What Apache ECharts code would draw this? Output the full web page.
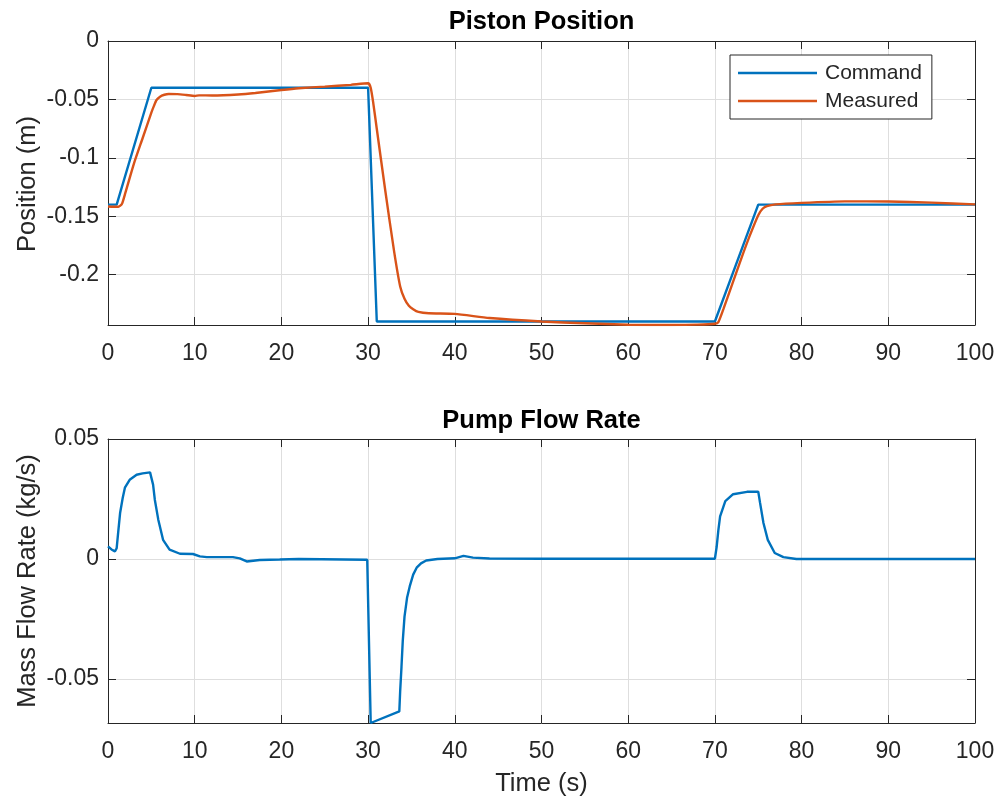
<!DOCTYPE html>
<html>
<head>
<meta charset="utf-8">
<script src="https://cdn.jsdelivr.net/npm/echarts@6/dist/echarts.min.js"></script>
<style>
html,body{margin:0;padding:0;background:#fff;}
#chart{width:1000px;height:804px;}
</style>
</head>
<body>
<div id="chart"></div>
<script>
// ---- data ----
const xTicks = [0, 10, 20, 30, 40, 50, 60, 70, 80, 90, 100];
const posTicks = [-0.2, -0.15, -0.1, -0.05, 0];
const flowTicks = [-0.05, 0, 0.05];

const cmdTime = [0, 1, 5, 30, 31, 70, 75, 100];
const cmdPos = [-0.14, -0.14, -0.04, -0.04, -0.24, -0.24, -0.14, -0.14];

const measTime = [0, 0.6, 1.2, 1.6, 2, 3, 4, 5, 5.3, 5.6, 6, 6.5, 7, 8, 9, 10, 10.5, 12, 15, 17, 20, 22, 25, 28, 30,
  30.3, 30.6, 31, 32, 33, 33.7, 34.2, 34.7, 35.2, 35.8, 37, 40, 44, 50, 55, 60, 65, 68, 70, 70.4, 71, 72, 73, 74, 75,
  75.5, 76, 77, 80, 85, 90, 95, 100];
const measPos = [-0.1416, -0.1418, -0.1418, -0.1395, -0.130, -0.1047, -0.083, -0.0613, -0.0555, -0.0505, -0.0476,
  -0.046, -0.0453, -0.0455, -0.0462, -0.047, -0.0465, -0.0466, -0.0458, -0.0445, -0.0419, -0.0404, -0.039, -0.0375,
  -0.0362, -0.040, -0.0533, -0.0751, -0.129, -0.180, -0.21, -0.2205, -0.2265, -0.2295, -0.2318, -0.2330, -0.2335,
  -0.237, -0.240, -0.2415, -0.2428, -0.243, -0.2427, -0.2419, -0.2405, -0.229, -0.208, -0.187, -0.167, -0.149,
  -0.1435, -0.1413, -0.1398, -0.1385, -0.1372, -0.1373, -0.1383, -0.1398];

const flowTime = [0, 0.4, 0.8, 1.0, 1.2, 1.4, 1.7, 1.95, 2.5, 3.3, 4.0, 4.85, 5.0, 5.2, 5.4, 5.8, 6.35, 7.1, 8.3, 9.8,
  10.6, 11.4, 14.4, 15.2, 16.0, 17.5, 19.8, 22, 29.9, 30.0, 30.3, 33.6, 33.7, 33.85, 34.0, 34.2, 34.5, 34.8, 35.2,
  35.6, 36.1, 36.7, 38, 40, 41, 42.1, 44, 50, 60, 70, 70.2, 70.4, 70.6, 71.2, 72.1, 73.7, 75, 75.2, 75.6, 76.1, 76.9,
  77.9, 79.4, 100];
const flowRate = [0.0053, 0.0040, 0.0032, 0.0045, 0.012, 0.0193, 0.0255, 0.0297, 0.033, 0.0351, 0.0357, 0.0361, 0.0358,
  0.031, 0.0247, 0.0164, 0.008, 0.0039, 0.0022, 0.0021, 0.0011, 0.0008, 0.0008, 0.0003, -0.001, -0.0004, -0.0002, 0,
  -0.0003, -0.0003, -0.0683, -0.0635, -0.055, -0.045, -0.034, -0.024, -0.016, -0.0114, -0.0065, -0.0036, -0.0018,
  -0.0006, 0, 0.0003, 0.0013, 0.0006, 0.0002, 0.0001, 0.0001, 0.0001, 0.005, 0.012, 0.0178, 0.0241, 0.027, 0.028,
  0.0281, 0.0236, 0.015, 0.008, 0.0025, 0.0008, 0, 0];

// ---- build ----
const zip = (a, b) => a.map((v, i) => [v, b[i]]);
const FONT = "'Liberation Sans', Arial, Helvetica, sans-serif";
const AX = '#262626';
const GRIDC = '#dedede';
const TICK = 23;
const BLUE = '#0072BD', ORANGE = '#D95319';

function fmt(v) { return String(+v.toFixed(3)); }

function xAx(gi, main) {
  return {
    type: 'value', gridIndex: gi, min: 0, max: 100,
    position: main ? 'bottom' : 'top',
    axisLine: { show: true, onZero: false, lineStyle: { color: AX, width: 1 } },
    axisTick: { show: true, inside: true, length: 8, customValues: xTicks, lineStyle: { color: AX } },
    axisLabel: main ? {
      show: true, margin: 17, color: AX, fontSize: TICK, fontFamily: FONT, customValues: xTicks,
      formatter: v => String(v)
    } : { show: false },
    splitLine: { show: main, lineStyle: { color: GRIDC, width: 1 } }
  };
}
function yAx(gi, main, min, max, ticks) {
  return {
    type: 'value', gridIndex: gi, min: min, max: max,
    position: main ? 'left' : 'right',
    axisLine: { show: true, onZero: false, lineStyle: { color: AX, width: 1 } },
    axisTick: { show: true, inside: true, length: 8, customValues: ticks, lineStyle: { color: AX } },
    axisLabel: main ? {
      show: true, margin: 9, color: AX, fontSize: TICK, fontFamily: FONT, customValues: ticks,
      formatter: v => fmt(v)
    } : { show: false },
    splitLine: { show: main, lineStyle: { color: GRIDC, width: 1 } }
  };
}

const chart = echarts.init(document.getElementById('chart'), null, { renderer: 'canvas' });
chart.setOption({
  animation: false,
  backgroundColor: '#ffffff',
  textStyle: { fontFamily: FONT },
  grid: [
    { left: 108, top: 41, width: 867, height: 284, containLabel: false },
    { left: 108, top: 439, width: 867, height: 284, containLabel: false }
  ],
  xAxis: [xAx(0, true), xAx(0, false), xAx(1, true), xAx(1, false)],
  yAxis: [
    yAx(0, true, -0.243, 0, posTicks), yAx(0, false, -0.243, 0, posTicks),
    yAx(1, true, -0.0683, 0.05, flowTicks), yAx(1, false, -0.0683, 0.05, flowTicks)
  ],
  legend: {
    data: ['Command', 'Measured'],
    orient: 'vertical', left: 730, top: 55,
    backgroundColor: '#ffffff', borderColor: AX, borderWidth: 1,
    padding: [7, 10, 7, 8], itemGap: 6, itemWidth: 79, itemHeight: 2.4, icon: 'rect',
    textStyle: { fontSize: 21, lineHeight: 22, color: AX, fontFamily: FONT, padding: [0, 0, 0, 3] }
  },
  series: [
    { name: 'Command', type: 'line', xAxisIndex: 0, yAxisIndex: 0, data: zip(cmdTime, cmdPos),
      symbol: 'none', showSymbol: false, lineStyle: { color: BLUE, width: 2.4 }, itemStyle: { color: BLUE } },
    { name: 'Measured', type: 'line', xAxisIndex: 0, yAxisIndex: 0, data: zip(measTime, measPos),
      symbol: 'none', showSymbol: false, smooth: 0.2, lineStyle: { color: ORANGE, width: 2.4 }, itemStyle: { color: ORANGE } },
    { name: 'Flow', type: 'line', xAxisIndex: 2, yAxisIndex: 2, data: zip(flowTime, flowRate),
      symbol: 'none', showSymbol: false, lineStyle: { color: BLUE, width: 2.4 }, itemStyle: { color: BLUE } }
  ],
  graphic: [
    { type: 'text', x: 541.5, y: 22, style: { text: 'Piston Position', fill: '#000', align: 'center', verticalAlign: 'middle',
      font: "bold 25.5px 'Liberation Sans', Arial, sans-serif" } },
    { type: 'text', x: 541.5, y: 421, style: { text: 'Pump Flow Rate', fill: '#000', align: 'center', verticalAlign: 'middle',
      font: "bold 25.5px 'Liberation Sans', Arial, sans-serif" } },
    { type: 'text', x: 541.5, y: 784, style: { text: 'Time (s)', fill: AX, align: 'center', verticalAlign: 'middle',
      font: "25.5px 'Liberation Sans', Arial, sans-serif" } },
    { type: 'text', x: 28, y: 184, rotation: Math.PI / 2, style: { text: 'Position (m)', fill: AX, align: 'center', verticalAlign: 'middle',
      font: "25.5px 'Liberation Sans', Arial, sans-serif" } },
    { type: 'text', x: 28, y: 581, rotation: Math.PI / 2, style: { text: 'Mass Flow Rate (kg/s)', fill: AX, align: 'center', verticalAlign: 'middle',
      font: "25.5px 'Liberation Sans', Arial, sans-serif" } }
  ]
});
</script>
</body>
</html>
